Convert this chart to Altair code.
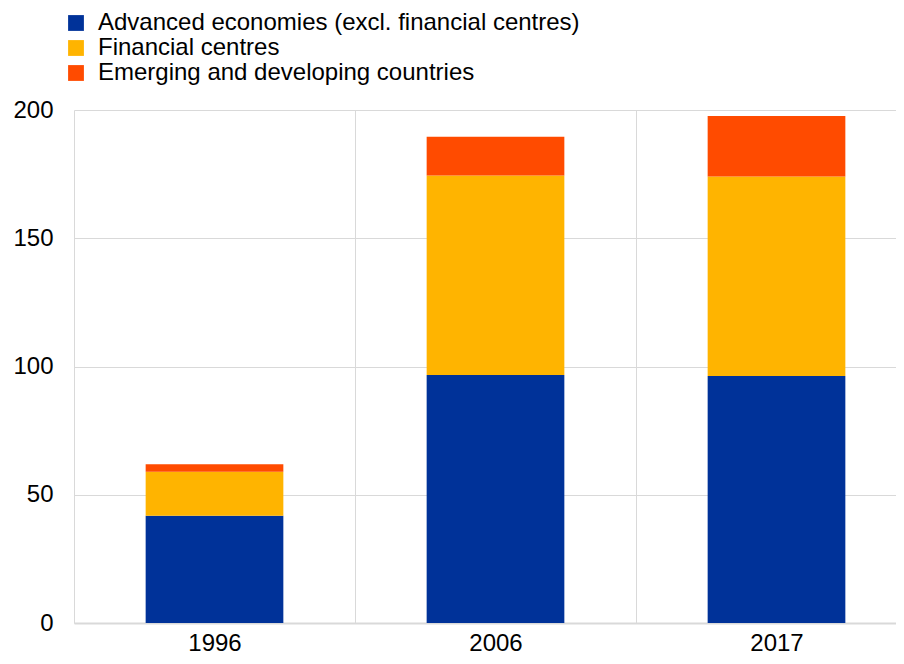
import altair as alt
import pandas as pd

years = ["1996", "2006", "2017"]
series = [
    "Advanced economies (excl. financial centres)",
    "Financial centres",
    "Emerging and developing countries",
]
advanced = [41.8, 96.7, 96.3]
financial = [17.2, 77.8, 77.8]
emerging = [2.9, 15.1, 23.6]
colors = ["#003299", "#FFB400", "#FF4B00"]
y_ticks = [0, 50, 100, 150, 200]

rows = []
for i, vals in enumerate([advanced, financial, emerging]):
    for yr, v in zip(years, vals):
        rows.append({"year": yr, "series": series[i], "value": v, "order": i})
df = pd.DataFrame(rows)

FONT = "Liberation Sans"
GRID = "#d9d9d9"

chart = (
    alt.Chart(df)
    .mark_bar(width=alt.RelativeBandSize(0.49))
    .encode(
        x=alt.X(
            "year:N",
            sort=years,
            scale=alt.Scale(range=[0, 843], paddingInner=0, paddingOuter=0),
            axis=alt.Axis(
                title=None,
                labelAngle=0,
                tickBand="extent",
                grid=True,
                ticks=False,
                tickSize=0,
                labelPadding=8,
                domainColor=GRID,
                domainWidth=2,
                gridColor=GRID,
            ),
        ),
        y=alt.Y(
            "value:Q",
            stack="zero",
            scale=alt.Scale(domain=[0, 200], nice=False),
            axis=alt.Axis(
                title=None,
                values=y_ticks,
                domain=False,
                ticks=False,
                tickSize=0,
                labelPadding=21,
                gridColor=GRID,
            ),
        ),
        color=alt.Color(
            "series:N",
            scale=alt.Scale(domain=series, range=colors),
            legend=alt.Legend(
                title=None,
                orient="none",
                legendX=-10,
                legendY=-99,
                symbolType="square",
                symbolSize=250,
                symbolStrokeWidth=0,
                rowPadding=1,
                labelOffset=10,
                labelFontSize=24,
                labelLimit=0,
                padding=0,
            ),
        ),
        order=alt.Order("order:Q"),
    )
    .properties(
        width=822,
        height=513,
        autosize=alt.AutoSizeParams(type="none"),
        padding={"left": 66, "top": 102, "right": 0, "bottom": 32},
    )
    .configure_view(stroke=None)
    .configure_axis(labelFont=FONT, labelFontSize=24, labelColor="#000000")
    .configure_legend(labelFont=FONT, labelColor="#000000", symbolOpacity=1)
)

chart.save("out.html", embed_options={"renderer": "svg", "actions": False})
